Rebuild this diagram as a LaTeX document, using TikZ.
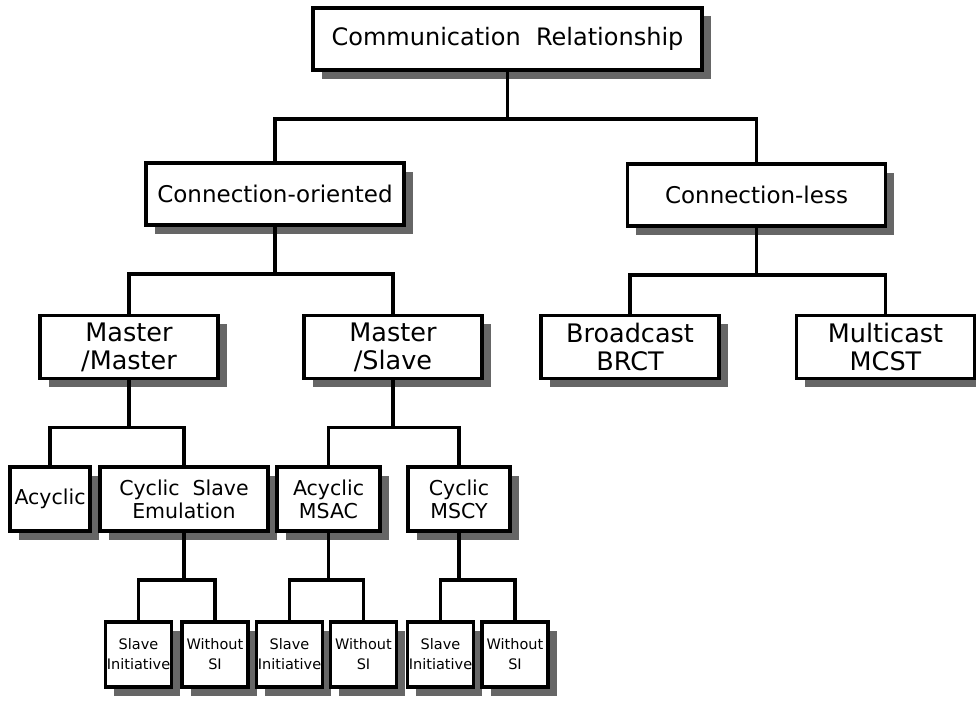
\documentclass[tikz,border=0pt]{standalone}
\usepackage{fontspec}
\setmainfont{DejaVu Sans}
\usetikzlibrary{shadows}

\begin{document}
\begin{tikzpicture}[
  x=1pt,y=-1pt,
  box/.style={draw,line width=3.8pt,fill=white,align=center,inner sep=0pt,
    drop shadow={shadow xshift=8.5pt,shadow yshift=-8.5pt,fill=black!60,opacity=1}},
  rootbox/.style={box,font=\fontsize{24}{28}\selectfont,minimum width=389pt,minimum height=62pt},
  kind/.style={box,font=\fontsize{23}{27}\selectfont,minimum width=258pt,minimum height=62pt},
  role/.style={box,font=\fontsize{25.5}{28}\selectfont,minimum width=178pt,minimum height=63pt},
  mode/.style={box,font=\fontsize{20.5}{23}\selectfont,minimum height=64pt},
  leaf/.style={box,font=\fontsize{14.5}{20}\selectfont,minimum width=66pt,minimum height=65pt},
  link/.style={line width=3.8pt},
]
\useasboundingbox (0,0) rectangle (976,701);

% --- root ---
\node[rootbox] (root) at (507.5,39) {Communication\ \ Relationship};

% --- connection type ---
\node[kind] (co) at (275,194) {Connection-oriented};
\node[kind] (cl) at (756.5,195) {Connection-less};

% --- master/slave roles and broadcast ---
\node[role] (mm) at (129,347) {Master\\/Master};
\node[role] (ms) at (393,347) {Master\\/Slave};
\node[role] (bc) at (630,347) {Broadcast\\BRCT};
\node[role] (mc) at (885.5,347) {Multicast\\MCST};

% --- cyclic / acyclic ---
\node[mode,minimum width=80pt]  (ac)   at (50,499)    {Acyclic};
\node[mode,minimum width=168pt] (cse)  at (184,499)   {Cyclic\ \ Slave\\Emulation};
\node[mode,minimum width=103pt] (msac) at (328.5,499) {Acyclic\\MSAC};
\node[mode,minimum width=102pt] (mscy) at (459,499)   {Cyclic\\MSCY};

% --- slave initiative ---
\node[leaf] (si1) at (138.5,654.5) {Slave\\Initiative};
\node[leaf] (ws1) at (215,654.5)   {Without\\SI};
\node[leaf] (si2) at (289.5,654.5) {Slave\\Initiative};
\node[leaf] (ws2) at (363.5,654.5) {Without\\SI};
\node[leaf] (si3) at (440.5,654.5) {Slave\\Initiative};
\node[leaf] (ws3) at (515,654.5)   {Without\\SI};

% --- tree lines ---
\foreach \p/\c in {root/co,root/cl,co/mm,co/ms,cl/bc,cl/mc,mm/ac,mm/cse,ms/msac,ms/mscy,
                   cse/si1,cse/ws1,msac/si2,msac/ws2,mscy/si3,mscy/ws3}
  \draw[link] (\p.south) -- ++(0,47) -| (\c.north);

\end{tikzpicture}
\end{document}
